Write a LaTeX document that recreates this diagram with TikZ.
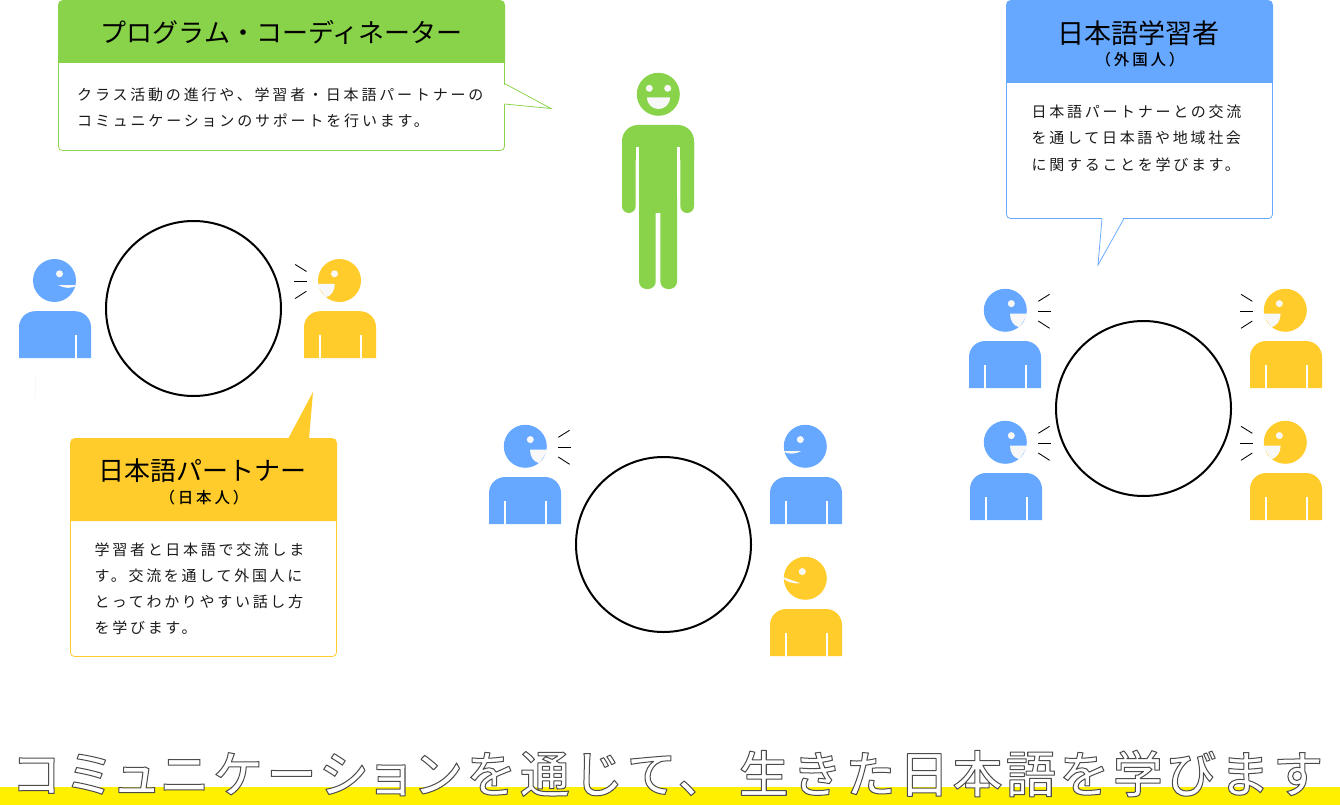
\documentclass[tikz,border=0pt]{standalone}
\usepackage{fontspec}
\setmainfont{Noto Sans CJK JP}
\newfontfamily\bodyjp[LetterSpace=18]{Noto Sans CJK JP}
\newfontfamily\bodywide[LetterSpace=18.8]{Noto Sans CJK JP}
\newfontfamily\subjp[LetterSpace=18]{Noto Sans CJK JP Medium}
\newfontfamily\footjp[LetterSpace=6.9]{Noto Sans CJK JP Medium}
\definecolor{pgreen}{HTML}{88D34A}
\definecolor{pblue}{HTML}{66A8FF}
\definecolor{pyellow}{HTML}{FFCC2B}
\definecolor{band}{HTML}{FFF000}
\definecolor{mouthc}{HTML}{F8F8F8}
\definecolor{inkc}{HTML}{1A1A1A}
\tikzset{
  ring/.style={draw=black,line width=2pt,fill=white},
  tick/.style={draw=black,line width=0.85pt},
  title/.style={inner sep=0pt,font=\fontsize{26}{30}\selectfont,text=black},
  sub/.style={inner sep=0pt,font=\fontsize{15.5}{18}\selectfont\subjp,text=black},
  bodytxt/.style={inner sep=0pt,anchor=west,font=\fontsize{15}{18}\selectfont\bodyjp,text=inkc},
}
% #1 direction (1 right,-1 left)
\newcommand\mouthtalk[1]{\begin{scope}[xscale=#1]
  \fill[mouthc] (4.7,3.3) -- (23,3.3) -- (14,17) .. controls (8,15.5) and (4.7,10) .. (4.7,3.3) -- cycle;
  \draw[tick] (33,-9) -- (44.3,-16);
  \draw[tick] (32.7,1) -- (45.7,1);
  \draw[tick] (33,10.7) -- (44.3,18);
\end{scope}}
\newcommand\mouthquiet[1]{\begin{scope}[xscale=#1]
  \fill[mouthc] (4,4.7) -- (23,4.7) .. controls (17,8.5) and (10,8) .. (4,4.7) -- cycle;
\end{scope}}
\newcommand\mouthup{\fill[mouthc] (-4.7,5) -- (-23,-1.5) .. controls (-20,4) and (-12,5.5) .. (-4.7,5) -- cycle;}
% #1,#2 head centre; #3 body offset; #4 colour; #5 eye dx; #6 mouth code; #7 left slit colour
\newcommand\figperson[7]{\begin{scope}[shift={(#1,#2)}]
  \fill[#4] (0,0) circle (21.5);
  \fill[mouthc] (#5,-6.7) circle (3.5);
  #6
  \fill[#4] (#3-36,77.7) -- (#3-36,46.7) .. controls (#3-36,37.9) and (#3-28.8,30.7) .. (#3-20,30.7)
     -- (#3+20,30.7) .. controls (#3+28.8,30.7) and (#3+36,37.9) .. (#3+36,46.7) -- (#3+36,77.7) -- cycle;
  \fill[#7] (#3-21,54.7) rectangle (#3-19.2,77.7);
  \fill[white] (#3+20,54.7) rectangle (#3+22,77.7);
\end{scope}}
\begin{document}
\begin{tikzpicture}[x=1pt,y=-1pt]
\useasboundingbox (0,0) rectangle (1340,805);
\fill[white] (0,0) rectangle (1340,805);
% green figure
\fill[pgreen] (658.3,94.3) circle (21.5);
\fill[mouthc] (649.3,88.3) circle (3.5);
\fill[mouthc] (667.7,88.3) circle (3.5);
\fill[mouthc] (647,97.3) -- (670,97.3) .. controls (670,105) and (664,109) .. (658.5,109) .. controls (653,109) and (647,105) .. (647,97.3) -- cycle;
\fill[pgreen] (622,160) -- (622,141) .. controls (622,132.2) and (629.2,125) .. (638,125)
   -- (678,125) .. controls (686.8,125) and (694,132.2) .. (694,141) -- (694,160) -- cycle;
\fill[pgreen,rounded corners=6.8] (622,135) rectangle (635.7,213);
\fill[pgreen,rounded corners=6.8] (680.3,135) rectangle (694,213);
\fill[white] (635.7,146.7) rectangle (639,200);
\fill[white] (677,146.7) rectangle (680.3,200);
\fill[pgreen,rounded corners=7.5] (639,190) rectangle (655.7,289);
\fill[pgreen,rounded corners=7.5] (660.3,190) rectangle (677,289);
\fill[pgreen] (639,140) rectangle (677,213);
% rings
\draw[ring] (193.5,308.5) circle (87.5);
\draw[ring] (663.5,544.5) circle (87.5);
\draw[ring] (1143.5,408.5) circle (87.5);
% people
\figperson{54.5}{280.5}{0.5}{pblue}{5}{\mouthquiet{1}}{pblue}
\figperson{339.5}{280.5}{0.5}{pyellow}{-5}{\mouthtalk{-1}}{white}
\fill[mouthc] (34.6,375) rectangle (35.4,398);
\figperson{525.3}{446.3}{-0.3}{pblue}{5}{\mouthtalk{1}}{white}
\figperson{805.3}{446.3}{0.7}{pblue}{-5}{\mouthquiet{-1}}{white}
\figperson{805.3}{578.3}{0.7}{pyellow}{-3}{\mouthup}{white}
\figperson{1005.3}{310.3}{-0.3}{pblue}{6}{\mouthtalk{1}}{white}
\figperson{1005.3}{442.3}{0.7}{pblue}{6}{\mouthtalk{1}}{white}
\figperson{1285.3}{310.3}{0.7}{pyellow}{-6}{\mouthtalk{-1}}{white}
\figperson{1285.3}{442.3}{0.7}{pyellow}{-6}{\mouthtalk{-1}}{white}
% green callout
\draw[pgreen,fill=white,line width=0.75pt,rounded corners=4] (58.5,50) -- (58.5,150.5) -- (504.5,150.5) -- (504.5,50) -- cycle;
\fill[white] (503,84) -- (551,108.5) -- (503,104) -- cycle;
\draw[pgreen,line width=0.75pt] (504.5,83.5) -- (551,108.5) -- (504.5,104);
\fill[pgreen] (58,63) -- (58,5) .. controls (58,2) and (60,0) .. (63,0) -- (500,0) .. controls (503,0) and (505,2) .. (505,5) -- (505,63) -- cycle;
\node[title] (ptitle) at (281.5,32) {プログラム・コーディネーター};
\node[bodytxt,yshift=-1.5pt,font=\fontsize{15}{18}\selectfont\bodywide] (pl1) at (77,93) {クラス活動の進行や、学習者・日本語パートナーの};
\node[bodytxt,yshift=-1.5pt,font=\fontsize{15}{18}\selectfont\bodywide] (pl2) at (77,119) {コミュニケーションのサポートを行います。};
% blue callout
\draw[pblue,fill=white,line width=0.75pt,rounded corners=4] (1006.5,50) -- (1006.5,218.5) -- (1272.5,218.5) -- (1272.5,50) -- cycle;
\fill[white] (1102,216) -- (1098,265) -- (1124,216) -- cycle;
\draw[pblue,line width=0.75pt] (1102,218.5) -- (1098,265) -- (1124,218.5);
\fill[pblue] (1006,83) -- (1006,5) .. controls (1006,2) and (1008,0) .. (1011,0) -- (1268,0) .. controls (1271,0) and (1273,2) .. (1273,5) -- (1273,83) -- cycle;
\node[title,font=\fontsize{27}{30}\selectfont] (ltitle) at (1138.5,33) {日本語学習者};
\node[sub] (lsub) at (1140,59.5) {（外国人）};
\node[bodytxt,yshift=-0.7pt] (ll1) at (1031.5,111) {日本語パートナーとの交流};
\node[bodytxt,yshift=-0.7pt] (ll2) at (1031.5,137.5) {を通して日本語や地域社会};
\node[bodytxt,yshift=-0.7pt] (ll3) at (1031.5,164) {に関することを学びます。};
% yellow callout
\draw[pyellow,fill=white,line width=0.75pt,rounded corners=4] (70.5,500) -- (70.5,656.5) -- (336.5,656.5) -- (336.5,500) -- cycle;
\fill[pyellow] (288,439) -- (313,392) -- (309,439) -- cycle;
\fill[pyellow] (70,521) -- (70,443) .. controls (70,440) and (72,438) .. (75,438) -- (332,438) .. controls (335,438) and (337,440) .. (337,443) -- (337,521) -- cycle;
\node[title] (ytitle) at (202.5,470.5) {日本語パートナー};
\node[sub] (ysub) at (204,497.5) {（日本人）};
\node[bodytxt] (yl1) at (94.5,549.5) {学習者と日本語で交流しま};
\node[bodytxt] (yl2) at (94.5,576) {す。交流を通して外国人に};
\node[bodytxt] (yl3) at (94.5,602) {とってわかりやすい話し方};
\node[bodytxt] (yl4) at (94.5,628) {を学びます。};
% footer
\fill[band] (0,786.5) rectangle (1340,805);
\node[inner sep=0pt,anchor=west,font=\fontsize{50}{56}\selectfont\footjp] (foot) at (11,773.5)
 {\special{pdf:code 1 j 2 Tr 1 w 0.3 0.3 0.3 RG 1 1 1 rg}コミ\kern-3ptュ\kern-2ptニケーシ\kern-3ptョ\kern-3ptンを通じて、\kern11pt生きた日本語を学びます\special{pdf:code 0 Tr}};
\end{tikzpicture}
\end{document}
